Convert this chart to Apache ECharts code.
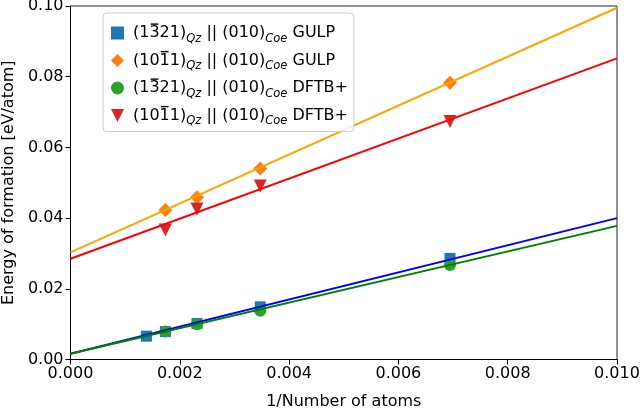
<!DOCTYPE html>
<html><head><meta charset="utf-8">
<script src="https://cdn.jsdelivr.net/npm/echarts@6/dist/echarts.min.js"></script>
<style>html,body{margin:0;padding:0;background:#fff}#c{width:640px;height:410px}</style>
</head><body><div id="c"></div>
<script>
// Number of atoms per system (x axis is 1/N)
var atomsGulp13 = [720, 576, 432, 288, 144];
var atomsOther = [576, 432, 288, 144];
// Energies of formation [eV/atom]
var gulp1321 = [0.0066, 0.0079, 0.0102, 0.0149, 0.0286];
var gulp1011 = [0.0423, 0.0459, 0.0540, 0.0783];
var dftb1321 = [0.0079, 0.0100, 0.0138, 0.0267];
var dftb1011 = [0.0366, 0.0426, 0.0491, 0.0673];
// linear fit lines: values at x = 0 and x = 0.01
var fitX = [0, 0.01];
var fitGulp1321 = [0.0016, 0.0400];
var fitGulp1011 = [0.0303, 0.0995];
var fitDftb1321 = [0.0016, 0.0378];
var fitDftb1011 = [0.0285, 0.0852];
var xTicks = ['0.000','0.002','0.004','0.006','0.008','0.010'];
var yTicks = ['0.00','0.02','0.04','0.06','0.08','0.10'];
var names = ['g1321','g1011','d1321','d1011'];
// {b|x} marks the digit that carries an overbar
var legendText = {
  g1321: '{n|(1}{b|3}{n|21)}{s|Qz}{n| || (010)}{s|Coe}{n| GULP}',
  g1011: '{n|(10}{b|1}{n|1)}{s|Qz}{n| || (010)}{s|Coe}{n| GULP}',
  d1321: '{n|(1}{b|3}{n|21)}{s|Qz}{n| || (010)}{s|Coe}{n| DFTB+}',
  d1011: '{n|(10}{b|1}{n|1)}{s|Qz}{n| || (010)}{s|Coe}{n| DFTB+}'
};
function pts(atoms, vals){ return atoms.map(function(a,i){ return [1/a, vals[i]]; }); }
function line(vals){ return fitX.map(function(x,i){ return [x, vals[i]]; }); }
var font = 'DejaVu Sans';
var FS = 16;
var MARK = '#000001';
var triDown = 'path://M0,0L10,0L5,10Z';
var chart = echarts.init(document.getElementById('c'), null, {renderer:'canvas'});
var scat = function(name, data, sym, size, color){
  return {type:'scatter', name:name, data:data, symbol:sym, symbolSize:size,
    itemStyle:{color:color, opacity:1}, z:2};
};
var ln = function(data, color){
  return {type:'line', data:data, symbol:'none', lineStyle:{color:color, width:2}, z:3, silent:true, clip:true};
};
var tokenStyle = {fontSize:FS, fontFamily:font, color:'#000', lineHeight:24, verticalAlign:'middle'};
chart.setOption({
  animation:false,
  textStyle:{fontFamily:font},
  grid:{left:70.5, right:23, top:6, bottom:50.5, outerBoundsMode:'none', containLabel:false,
    show:true, borderColor:'#222', borderWidth:1, backgroundColor:'transparent'},
  xAxis:{type:'value', min:0, max:0.01, interval:0.002,
    name:'1/Number of atoms', nameLocation:'middle', nameGap:34,
    nameTextStyle:{fontSize:FS, color:'#000', fontFamily:font},
    axisLine:{lineStyle:{color:'#000', width:1}},
    axisTick:{inside:false, length:5, lineStyle:{color:'#000'}},
    axisLabel:{fontSize:FS, color:'#000', fontFamily:font, margin:6,
      formatter:function(v){ return xTicks[Math.round(v/0.002)]; }},
    splitLine:{show:false}},
  yAxis:{type:'value', min:0, max:0.1, interval:0.02,
    name:'Energy of formation [eV/atom]', nameLocation:'middle', nameGap:53,
    nameTextStyle:{fontSize:FS, color:'#000', fontFamily:font},
    axisLine:{lineStyle:{color:'#000', width:1}},
    axisTick:{inside:false, length:5, lineStyle:{color:'#000'}},
    axisLabel:{fontSize:FS, color:'#000', fontFamily:font, margin:7,
      formatter:function(v){ return yTicks[Math.round(v/0.02)]; }},
    splitLine:{show:false}},
  legend:{data:[
      {name:'g1321', icon:'rect'}, {name:'g1011', icon:'diamond'},
      {name:'d1321', icon:'circle'}, {name:'d1011', icon:triDown}],
    orient:'vertical', left:103, top:13,
    backgroundColor:'rgba(255,255,255,0.8)', borderColor:'#ccc', borderWidth:1, borderRadius:4,
    padding:[12,6,4,8], itemGap:7.5, itemWidth:13, itemHeight:13,
    formatter:function(n){ return legendText[n]; },
    textStyle:{fontFamily:font, color:'#000', padding:[0,0,0,4],
      rich:{n:tokenStyle,
            b:echarts.util.extend(echarts.util.extend({}, tokenStyle), {color:MARK}),
            s:{fontSize:11.5, fontFamily:font, fontStyle:'italic', color:'#000', lineHeight:15, verticalAlign:'bottom'}}}},
  series:[
    scat('g1321', pts(atomsGulp13, gulp1321), 'rect', 11, '#1f77b4'),
    scat('g1011', pts(atomsOther, gulp1011), 'diamond', 14, '#ff7f0e'),
    scat('d1321', pts(atomsOther, dftb1321), 'circle', 12, '#2ca02c'),
    scat('d1011', pts(atomsOther, dftb1011), triDown, 13, '#d62728'),
    ln(line(fitGulp1321), '#0000ff'),
    ln(line(fitGulp1011), '#ffa500'),
    ln(line(fitDftb1321), '#008000'),
    ln(line(fitDftb1011), '#ff0000')
  ]
});
// overbars (\bar{}) above the marked digits, placed from the rendered legend text
(function(){
  var mctx = document.createElement('canvas').getContext('2d');
  var bars = [];
  function handleText(t){
    if (t.update) t.update();
    var kids = t.childrenRef ? t.childrenRef() : [];
    var m = t.getComputedTransform ? t.getComputedTransform() : null;
    kids.forEach(function(ts){
      var st = ts.style;
      if (!st || st.fill !== MARK || !st.text) return;
      mctx.font = st.font || (FS + 'px "' + font + '"');
      var w = mctx.measureText(st.text).width;
      var x = st.x, y = st.y;
      if (st.textAlign === 'right') x -= w; else if (st.textAlign === 'center') x -= w / 2;
      var gx = x, gy = y;
      if (m) { gx = m[0]*x + m[2]*y + m[4]; gy = m[1]*x + m[3]*y + m[5]; }
      bars.push({type:'rect', z:100, silent:true,
        shape:{x: gx + 1.2, y: gy - 9.6, width: w - 2.4, height: 1.4}, style:{fill:'#000'}});
    });
  }
  function visit(el){
    if (el.type === 'text') handleText(el);
    if (el.isGroup && el.childrenRef) el.childrenRef().forEach(visit);
  }
  try {
    chart.getZr().storage.getRoots().forEach(visit);
  } catch (e) {}
  if (bars.length) chart.setOption({graphic: bars});
})();
</script></body></html>
